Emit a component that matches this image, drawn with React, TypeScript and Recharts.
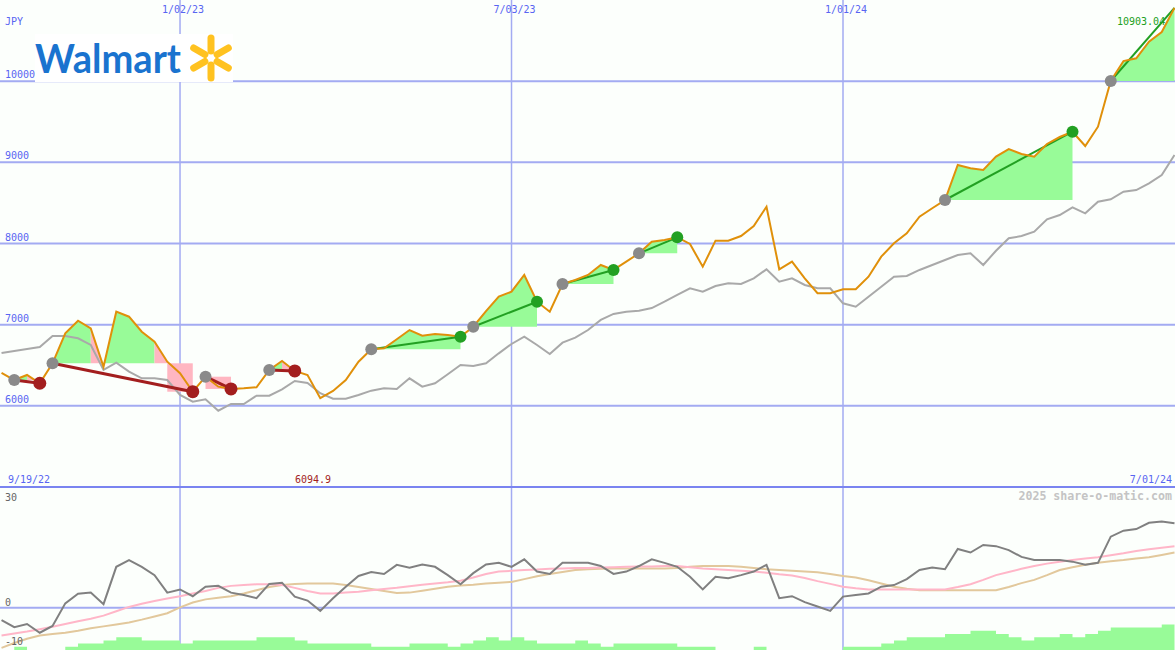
import { ComposedChart, Line, Area, XAxis, YAxis, CartesianGrid } from 'recharts'

// weekly index: 0 = 9/26/22 ... 92 = 7/01/24
const dateTicks = [14, 40, 66]
const dateLabels = ['1/02/23', '7/03/23', '1/01/24']
const priceTicks = [6000, 7000, 8000, 9000, 10000]
const oscTicks = [-10, 0, 30]

const price = [
  6405, 6318, 6380, 6278, 6524, 6894, 7049, 6955, 6482, 7160,
  7098, 6913, 6790, 6544, 6401, 6174, 6359, 6236, 6208, 6216,
  6228, 6442, 6552, 6430, 6380, 6094.9, 6183, 6318, 6544, 6697,
  6709, 6820, 6934, 6864, 6885, 6873, 6852, 6975, 7168, 7345,
  7406, 7612, 7283, 7160, 7501, 7550, 7612, 7735, 7674, 7776,
  7879, 8022, 8043, 8076, 7994, 7714, 8035, 8035, 8092, 8216,
  8453, 7682, 7776, 7571, 7387, 7387, 7436, 7436, 7591, 7838,
  8003, 8126, 8330, 8434, 8536, 8967, 8927, 8906, 9070, 9164,
  9103, 9070, 9226, 9312, 9377, 9201, 9439, 10002, 10248, 10282,
  10486, 10606, 10903.04,
]

const compare = [
  6651, 6676, 6700, 6725, 6860, 6860, 6832, 6750, 6442, 6532,
  6421, 6339, 6339, 6318, 6134, 6051, 6081, 5940, 6023, 6023,
  6125, 6125, 6204, 6306, 6281, 6155, 6088, 6088, 6134, 6187,
  6216, 6208, 6339, 6236, 6278, 6389, 6503, 6491, 6524, 6647,
  6762, 6852, 6750, 6639, 6778, 6840, 6934, 7058, 7132, 7160,
  7172, 7205, 7283, 7366, 7448, 7406, 7476, 7510, 7501, 7571,
  7682, 7529, 7571, 7489, 7448, 7448, 7263, 7221, 7345, 7468,
  7591, 7600, 7674, 7735, 7797, 7858, 7879, 7735, 7911, 8064,
  8092, 8145, 8298, 8351, 8446, 8372, 8515, 8545, 8638, 8659,
  8742, 8844, 9090,
]

const momentum = [
  -3.1, -4.9, -4.1, -6.3, -4.6, 1.1, 3.5, 3.8, 0.9, 10.3,
  12.0, 10.3, 8.2, 3.8, 4.6, 2.9, 5.3, 5.5, 3.8, 3.2,
  2.4, 6.0, 6.3, 2.8, 1.8, -0.8, 2.4, 5.3, 8.0, 9.0,
  8.5, 10.8, 10.1, 10.9, 10.3, 8.2, 5.9, 8.7, 10.9, 11.3,
  10.3, 12.2, 9.1, 8.5, 11.3, 11.3, 11.3, 10.5, 8.5, 9.1,
  10.5, 12.2, 11.3, 10.3, 7.8, 4.6, 7.8, 7.4, 8.2, 9.1,
  10.8, 2.4, 2.9, 1.4, 0.3, -0.8, 2.8, 3.2, 3.6, 5.3,
  5.7, 7.2, 9.5, 10.1, 9.7, 14.8, 13.9, 15.8, 15.5, 14.5,
  12.8, 12.0, 12.0, 12.0, 11.6, 10.8, 11.3, 17.9, 19.4, 19.8,
  21.4, 21.7, 21.3,
]

const fastAvg = [
  -7.0, -6.5, -6.0, -5.4, -4.8, -4.1, -3.4, -2.8, -2.0, -0.9,
  0.2, 1.0, 1.7, 2.3, 2.9, 3.6, 4.2, 5.0, 5.5, 5.7,
  5.9, 5.9, 5.7, 5.0, 4.2, 3.6, 3.6, 3.8, 4.0, 4.4,
  4.7, 5.0, 5.4, 5.8, 6.1, 6.4, 6.8, 7.6, 8.5, 9.1,
  9.3, 9.5, 9.6, 9.8, 9.9, 10.0, 10.0, 10.1, 10.2, 10.3,
  10.4, 10.4, 10.5, 10.5, 10.2, 9.9, 9.7, 9.5, 9.3, 9.1,
  8.8, 8.4, 8.1, 7.5, 6.7, 6.0, 5.3, 4.9, 4.6, 4.6,
  4.6, 4.6, 4.6, 4.6, 4.6, 5.2, 5.9, 7.0, 8.2, 9.0,
  9.8, 10.5, 11.1, 11.6, 12.0, 12.4, 12.7, 13.2, 13.7, 14.3,
  14.7, 15.1, 15.5,
]

const slowAvg = [
  -10.1, -8.9, -7.8, -7.0, -6.6, -6.3, -5.8, -5.2, -4.7, -4.2,
  -3.7, -3.0, -2.2, -1.4, 0.1, 1.3, 2.1, 2.5, 2.9, 3.6,
  4.4, 5.2, 5.7, 6.0, 6.1, 6.1, 6.1, 5.7, 5.2, 4.7,
  4.2, 3.7, 3.8, 4.3, 4.8, 5.3, 5.6, 5.8, 6.1, 6.3,
  6.5, 7.2, 7.9, 8.5, 9.0, 9.5, 9.7, 9.8, 9.9, 9.9,
  9.9, 9.9, 9.9, 10.0, 10.3, 10.5, 10.5, 10.5, 10.3, 10.0,
  9.7, 9.5, 9.3, 9.1, 8.9, 8.5, 8.0, 7.6, 6.9, 6.1,
  5.3, 4.8, 4.4, 4.4, 4.4, 4.4, 4.4, 4.4, 4.4, 5.2,
  6.2, 7.0, 8.2, 9.5, 10.2, 10.8, 11.3, 11.7, 12.0, 12.4,
  12.7, 13.3, 13.9,
]

const volumeLevel = [
  0, 1, 0, 0, 0, 1, 2, 2, 3, 4,
  4, 3, 3, 3, 2, 3, 3, 3, 3, 3,
  4, 4, 4, 3, 2, 2, 2, 2, 2, 1,
  1, 1, 2, 2, 2, 1, 2, 3, 4, 3,
  4, 3, 2, 2, 2, 3, 2, 1, 2, 2,
  2, 2, 2, 1, 1, 1, 0, 0, 0, 1,
  0, 0, 0, 0, 0, 0, 1, 1, 1, 2,
  3, 4, 4, 4, 5, 5, 6, 6, 5, 4,
  3, 4, 4, 5, 4, 5, 6, 7, 7, 7,
  7, 8, 8,
]

// trend signals: start week, end week, direction (last one still open)
const signalStart = [1, 4, 16, 21, 29, 37, 44, 50, 74, 87]
const signalEnd = [3, 15, 18, 23, 36, 42, 48, 53, 84, 92]
const signalUp = [false, false, false, false, true, true, true, true, true, true]
const openSignal = 9

// shaded pieces of each signal
const fillSignal = [0, 0, 1, 1, 1, 1, 1, 2, 3, 3, 4, 5, 6, 7, 8, 9]
const fillFrom = [1, 2, 4, 7, 8, 12, 13, 16, 21, 22, 29, 37, 44, 50, 74, 87]
const fillTo = [2, 3, 7, 8, 12, 13, 15, 18, 22, 23, 36, 42, 48, 53, 84, 92]
const fillUp = [true, false, true, false, true, false, false, false, true, false, true, true, true, true, true, true]
const fillBox = [false, false, false, false, false, false, true, true, false, false, false, false, false, false, false, false]

const BLUE = '#5865f2'
const GRID = '#a3abf2'
const GREEN = '#22a022'
const RED = '#a31e1e'
const MONO = 'DejaVu Sans Mono'

const rows = price.map((p, k) => {
  const row: Record<string, any> = {
    k,
    price: p,
    compare: compare[k],
    momentum: momentum[k],
    fast: fastAvg[k],
    slow: slowAvg[k],
    volume: volumeLevel[k],
  }
  fillSignal.forEach((s, i) => {
    if (k < fillFrom[i] || k > fillTo[i]) return
    const base = price[signalStart[s]]
    row['f' + i] = fillBox[i] ? [price[signalEnd[s]], base] : [base, p]
  })
  signalStart.forEach((s, j) => {
    if (k === s || k === signalEnd[j]) row['t' + j] = p
  })
  const j = signalEnd.indexOf(k)
  row.startDot = signalStart.includes(k) ? p : null
  row.upDot = j >= 0 && j !== openSignal && signalUp[j] ? p : null
  row.downDot = j >= 0 && !signalUp[j] ? p : null
  return row
})

const dotShape = (color: string, r: number) => (props: any) => {
  const { cx, cy, value, index } = props
  if (value == null || cy == null || Number.isNaN(cy)) return <g key={'n' + index} />
  return <circle key={'d' + index} cx={cx} cy={cy} r={r} fill={color} />
}

function DateTick({ x, payload }: any) {
  const i = dateTicks.indexOf(payload.value)
  return (
    <text x={x + 3} y={13} textAnchor="middle" fill={BLUE} fontSize={10} fontFamily={MONO}>
      {dateLabels[i]}
    </text>
  )
}

function PriceTick({ y, payload }: any) {
  return (
    <text x={5} y={y - 3} fill={BLUE} fontSize={10} fontFamily={MONO}>
      {payload.value}
    </text>
  )
}

function OscTick({ y, payload }: any) {
  const top = payload.value === oscTicks[oscTicks.length - 1]
  return (
    <text x={5} y={top ? y + 12 : y - 2} fill="#666" fontSize={10} fontFamily={MONO}>
      {payload.value}
    </text>
  )
}

const xDomain = [-0.12, 92.04]
const none = { top: 0, right: 0, bottom: 0, left: 0 }

export default function App() {
  const minPrice = Math.min(...price)
  const lastPrice = price[price.length - 1]
  const petals = [90, 30, -30, -90, -150, 150]

  return (
    <div style={{ position: 'absolute', left: 0, top: 0, width: 1175, height: 650, background: '#fcfffc', overflow: 'hidden' }}>
      <div style={{ position: 'absolute', left: 0, top: 0 }}>
        <ComposedChart width={1175} height={487} data={rows} margin={none}>
          <CartesianGrid horizontal={false} syncWithTicks stroke={GRID} strokeWidth={1.5} />
          <CartesianGrid vertical={false} syncWithTicks stroke={GRID} strokeWidth={2} />
          <XAxis
            dataKey="k"
            type="number"
            domain={xDomain}
            ticks={dateTicks}
            orientation="top"
            mirror
            allowDataOverflow
            axisLine={false}
            tickLine={false}
            interval={0}
            tick={DateTick}
          />
          <YAxis
            domain={[5000, 11000]}
            ticks={priceTicks}
            mirror
            allowDataOverflow
            axisLine={false}
            tickLine={false}
            interval={0}
            tick={PriceTick}
          />
          {fillSignal.map((_, i) => (
            <Area
              key={'f' + i}
              dataKey={'f' + i}
              type="linear"
              stroke="none"
              fill={fillUp[i] ? '#98fb98' : '#ffb6c1'}
              fillOpacity={1}
              dot={false}
              activeDot={false}
              isAnimationActive={false}
            />
          ))}
          <Line dataKey="compare" stroke="#a9a9a9" strokeWidth={2} dot={false} activeDot={false} isAnimationActive={false} />
          {signalStart.map((_, j) => (
            <Line
              key={'t' + j}
              dataKey={'t' + j}
              connectNulls
              stroke={signalUp[j] ? GREEN : RED}
              strokeWidth={signalUp[j] ? 2 : 3}
              dot={false}
              activeDot={false}
              isAnimationActive={false}
            />
          ))}
          <Line dataKey="startDot" stroke="none" dot={dotShape('#8a8a8a', 6)} activeDot={false} isAnimationActive={false} />
          <Line dataKey="upDot" stroke="none" dot={dotShape(GREEN, 6)} activeDot={false} isAnimationActive={false} />
          <Line dataKey="downDot" stroke="none" dot={dotShape(RED, 6.5)} activeDot={false} isAnimationActive={false} />
          <Line dataKey="price" stroke="#e0900a" strokeWidth={2} dot={false} activeDot={false} isAnimationActive={false} />
        </ComposedChart>
      </div>

      <div style={{ position: 'absolute', left: 0, top: 487 }}>
        <ComposedChart width={1175} height={163} data={rows} margin={none}>
          <CartesianGrid horizontal={false} syncWithTicks yAxisId="zero" stroke={GRID} strokeWidth={1.5} />
          <CartesianGrid vertical={false} syncWithTicks yAxisId="zero" stroke={GRID} strokeWidth={2} />
          <XAxis dataKey="k" type="number" domain={xDomain} ticks={dateTicks} hide allowDataOverflow />
          <YAxis yAxisId="zero" domain={[-10.65, 30.4]} ticks={[0]} hide allowDataOverflow />
          <YAxis
            yAxisId="osc"
            domain={[-10.65, 30.4]}
            ticks={oscTicks}
            mirror
            allowDataOverflow
            axisLine={false}
            tickLine={false}
            interval={0}
            tick={OscTick}
          />
          <YAxis yAxisId="vol" domain={[0, 50.9]} hide allowDataOverflow />
          <Area
            yAxisId="vol"
            dataKey="volume"
            type="stepAfter"
            stroke="none"
            fill="#98fb98"
            fillOpacity={1}
            dot={false}
            activeDot={false}
            isAnimationActive={false}
          />
          <Line yAxisId="osc" dataKey="slow" stroke="#e2c89c" strokeWidth={2} dot={false} activeDot={false} isAnimationActive={false} />
          <Line yAxisId="osc" dataKey="fast" stroke="#ffb6c8" strokeWidth={2} dot={false} activeDot={false} isAnimationActive={false} />
          <Line yAxisId="osc" dataKey="momentum" stroke="#808080" strokeWidth={2} dot={false} activeDot={false} isAnimationActive={false} />
        </ComposedChart>
      </div>

      <svg width={1175} height={650} style={{ position: 'absolute', left: 0, top: 0, pointerEvents: 'none' }}>
        <line x1={0} y1={487} x2={1175} y2={487} stroke="#7a84f0" strokeWidth={2} />
        <text x={5} y={25} fill={BLUE} fontSize={10} fontFamily={MONO}>JPY</text>
        <text x={8} y={483} fill={BLUE} fontSize={10} fontFamily={MONO}>9/19/22</text>
        <text x={295} y={483} fill={RED} fontSize={10} fontFamily={MONO}>{minPrice}</text>
        <text x={1172} y={483} textAnchor="end" fill={BLUE} fontSize={10} fontFamily={MONO}>7/01/24</text>
        <text x={1117} y={25} fill={GREEN} fontSize={10} fontFamily={MONO}>{lastPrice}</text>
        <text x={1172} y={500} textAnchor="end" fill="#c4c4c4" fontSize={11.6} fontWeight="bold" fontFamily={MONO}>
          2025 share-o-matic.com
        </text>

        {/* logo */}
        <rect x={35} y={34} width={198} height={48} fill="#ffffff" />
        <text
          x={35}
          y={73}
          fill="#1a73cf"
          fontSize={40}
          fontWeight="bold"
          fontFamily="Lato"
          textLength={146}
          lengthAdjust="spacingAndGlyphs"
        >
          Walmart
        </text>
        {petals.map((a) => {
          const rad = (a * Math.PI) / 180
          return (
            <line
              key={a}
              x1={211 + 7 * Math.cos(rad)}
              y1={58 - 7 * Math.sin(rad)}
              x2={211 + 20 * Math.cos(rad)}
              y2={58 - 20 * Math.sin(rad)}
              stroke="#ffc220"
              strokeWidth={7}
              strokeLinecap="round"
            />
          )
        })}
      </svg>
    </div>
  )
}
